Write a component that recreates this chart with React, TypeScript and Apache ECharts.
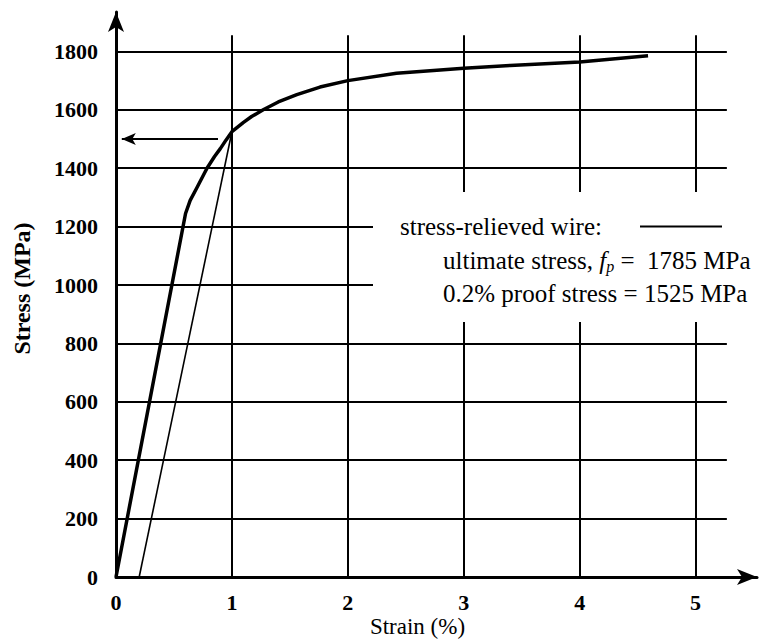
import React, { useEffect, useRef } from "react";
import * as echarts from "echarts";

// Stress-strain curve of stress-relieved wire (strain in %, stress in MPa)
const curveStrain = [0, 0.6, 0.64, 0.7, 0.785, 0.85, 0.9, 0.95, 1.0, 1.1, 1.17, 1.27, 1.4, 1.56, 1.76, 2.0, 2.42, 3.0, 3.4, 4.0, 4.59];
const curveStress = [0, 1245, 1290, 1335, 1400, 1440, 1467, 1497, 1525, 1557, 1577, 1600, 1627, 1652, 1678, 1700, 1725, 1742, 1752, 1764, 1785];

// 0.2% offset line
const offsetStrain = [0.2, 1.0];
const offsetStress = [0, 1525];

// arrow pointing to the proof stress on the stress axis
const arrowStrain = [0.88, 0.05];
const arrowStress = [1500, 1500];

// tick labels
const xTicks = [0, 0.2, 1, 2, 3, 4, 5];
const yTicks = [0, 200, 400, 600, 800, 1000, 1200, 1400, 1600, 1800];

// grid lines
const gridXs = [1, 2, 3, 4, 5];
const gridYs = [200, 400, 600, 800, 1000, 1200, 1400, 1600, 1800];
const gridXEnd = 5.27;
const gridYEnd = 1855;

const X_MAX = 5.53;
const Y_MAX = 1935;

const SERIF = "'Liberation Serif', 'Times New Roman', serif";

export default function App() {
  const ref = useRef<HTMLDivElement>(null);

  useEffect(() => {
    if (!ref.current) return;
    const chart = echarts.init(ref.current, undefined, { renderer: "svg" });

    const gridLines: any[] = [];
    gridXs.forEach((x) => gridLines.push([{ coord: [x, 0] }, { coord: [x, gridYEnd] }]));
    gridYs.forEach((y) => gridLines.push([{ coord: [0, y] }, { coord: [gridXEnd, y] }]));

    const option: any = {
      animation: false,
      backgroundColor: "#fff",
      grid: { left: 116, right: 2, top: 12, bottom: 62, containLabel: false, outerBoundsMode: "none" },
      legend: {
        data: ["stress-relieved wire:"],
        left: 400,
        top: 214,
        padding: 0,
        align: "right",
        icon: "rect",
        itemWidth: 82,
        itemHeight: 2,
        itemGap: 0,
        selectedMode: false,
        z: 60,
        formatter: (name: string) => "{a|" + name + "}",
        textStyle: {
          fontFamily: SERIF,
          fontSize: 25,
          color: "#000",
          rich: {
            a: { fontFamily: SERIF, fontSize: 25, color: "#000", padding: [0, 33, 0, 0] },
          },
        },
      },
      xAxis: {
        type: "value",
        min: 0,
        max: X_MAX,
        name: "Strain (%)",
        nameLocation: "middle",
        nameGap: 37,
        nameMoveOverlap: false,
        nameTextStyle: {
          fontFamily: SERIF,
          fontSize: 23,
          lineHeight: 24,
          color: "#000",
          padding: [0, 38, 0, 0],
        },
        axisLine: {
          show: true,
          symbol: ["none", "arrow"],
          symbolSize: [12, 20],
          lineStyle: { color: "#000", width: 3 },
        },
        axisTick: { show: false },
        splitLine: { show: false },
        axisLabel: {
          customValues: xTicks,
          showMinLabel: true,
          showMaxLabel: true,
          hideOverlap: false,
          margin: 14,
          fontFamily: SERIF,
          fontSize: 22,
          lineHeight: 22,
          fontWeight: "bold",
          color: "#000",
          formatter: (v: number) => (v === 0.2 ? "{r|0.2}" : String(v)),
          rich: {
            r: {
              fontFamily: SERIF,
              fontSize: 22,
              lineHeight: 22,
              fontWeight: "bold",
              color: "#000",
              padding: [0, 0, 0, 16],
            },
          },
        },
      },
      yAxis: {
        type: "value",
        min: 0,
        max: Y_MAX,
        name: "Stress (MPa)",
        nameLocation: "middle",
        nameGap: 82,
        nameTextStyle: {
          fontFamily: SERIF,
          fontSize: 24,
          fontWeight: "bold",
          color: "#000",
          padding: [0, 0, 0, 12],
        },
        axisLine: {
          show: true,
          symbol: ["none", "arrow"],
          symbolSize: [12, 20],
          lineStyle: { color: "#000", width: 3 },
        },
        axisTick: { show: false },
        splitLine: { show: false },
        axisLabel: {
          customValues: yTicks,
          showMinLabel: true,
          showMaxLabel: true,
          margin: 18,
          fontFamily: SERIF,
          fontSize: 22,
          fontWeight: "bold",
          color: "#000",
          formatter: (v: number) => String(v),
        },
      },
      series: [
        {
          name: "grid",
          type: "line",
          data: [],
          silent: true,
          markLine: {
            silent: true,
            symbol: ["none", "none"],
            label: { show: false },
            lineStyle: { color: "#000", width: 2, type: "solid" },
            emphasis: { disabled: true },
            data: gridLines,
          },
        },
        {
          name: "arrow",
          type: "line",
          data: [],
          silent: true,
          markLine: {
            silent: true,
            symbol: ["none", "arrow"],
            symbolSize: [9, 14],
            label: { show: false },
            lineStyle: { color: "#000", width: 2, type: "solid" },
            emphasis: { disabled: true },
            data: [
              [
                { coord: [arrowStrain[0], arrowStress[0]] },
                { coord: [arrowStrain[1], arrowStress[1]] },
              ],
            ],
          },
        },
        {
          name: "0.2% offset",
          type: "line",
          data: offsetStrain.map((x, i) => [x, offsetStress[i]]),
          symbol: "none",
          itemStyle: { color: "#000" },
          lineStyle: { color: "#000", width: 1.6 },
          z: 4,
        },
        {
          name: "stress-relieved wire:",
          type: "line",
          data: curveStrain.map((x, i) => [x, curveStress[i]]),
          symbol: "none",
          smooth: false,
          itemStyle: { color: "#000" },
          lineStyle: { color: "#000", width: 3.5, join: "round" },
          z: 5,
        },
      ],
      graphic: [
        {
          type: "rect",
          z: 50,
          silent: true,
          shape: { x: 373, y: 192, width: 386, height: 130 },
          style: { fill: "#fff" },
        },
        {
          type: "text",
          z: 60,
          x: 443,
          y: 260,
          style: {
            text: "{n|ultimate stress, }{i|f}{s|p}{n| =  1785 MPa}",
            verticalAlign: "middle",
            fill: "#000",
            rich: {
              n: { fontFamily: SERIF, fontSize: 25, fill: "#000", lineHeight: 28, verticalAlign: "middle" },
              i: { fontFamily: SERIF, fontSize: 25, fontStyle: "italic", fill: "#000", lineHeight: 28, verticalAlign: "middle" },
              s: { fontFamily: SERIF, fontSize: 16, fontStyle: "italic", fill: "#000", lineHeight: 16, verticalAlign: "bottom" },
            },
          },
        },
        {
          type: "text",
          z: 60,
          x: 443,
          y: 293,
          style: {
            text: "0.2% proof stress = 1525 MPa",
            fontFamily: SERIF,
            fontSize: 25,
            fill: "#000",
            verticalAlign: "middle",
          },
        },
      ],
    };

    chart.setOption(option);
    return () => chart.dispose();
  }, []);

  return (
    <div
      ref={ref}
      style={{ position: "absolute", left: 0, top: 0, width: 759, height: 639 }}
    />
  );
}
